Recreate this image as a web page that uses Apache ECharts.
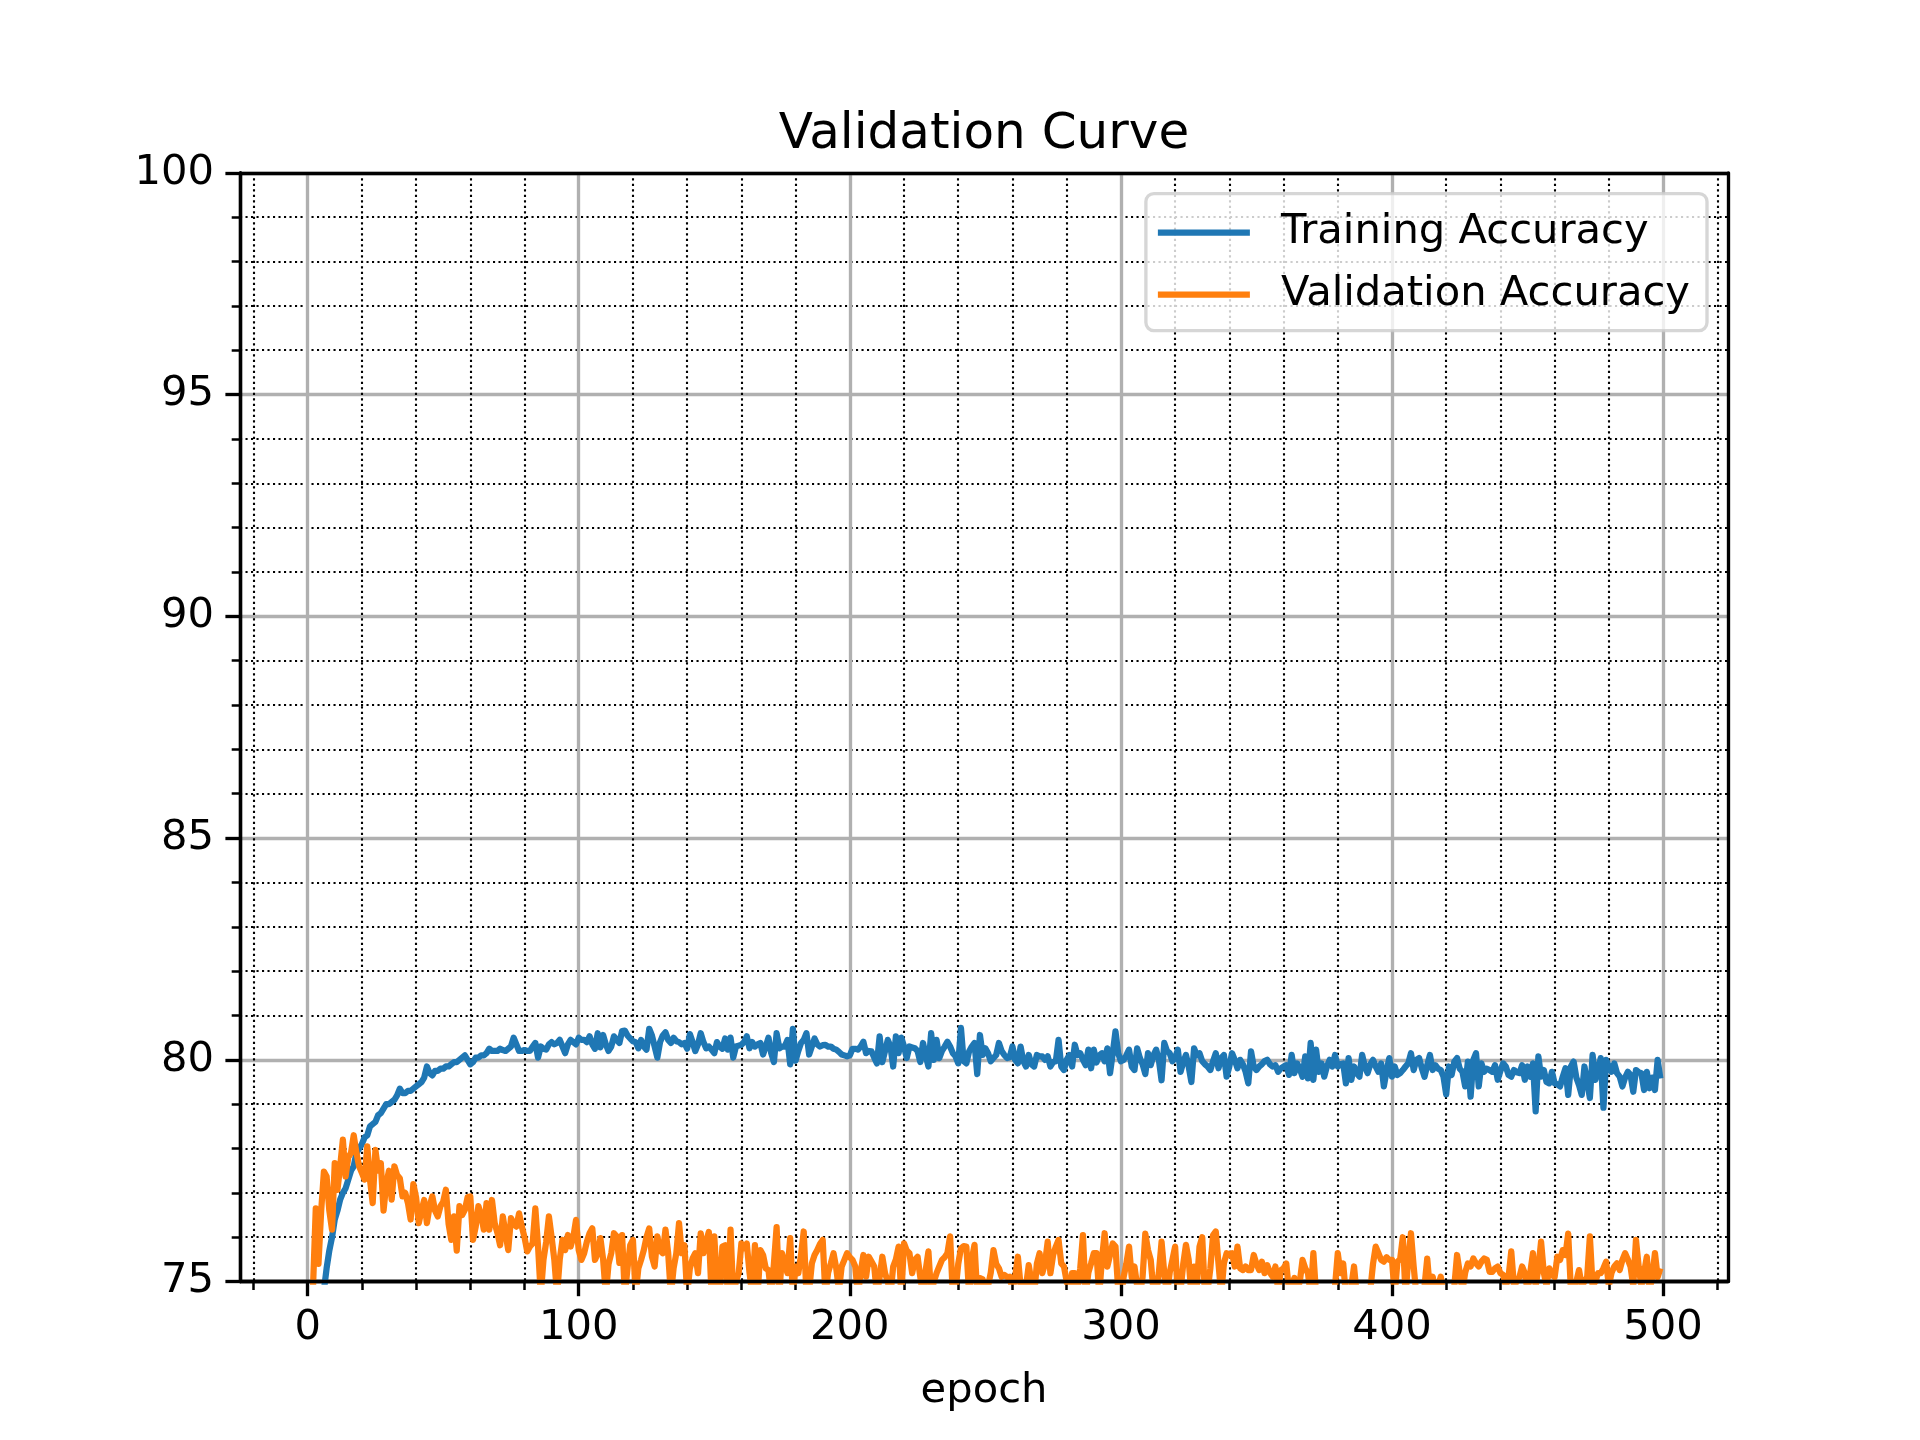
<!DOCTYPE html>
<html>
<head>
    <meta charset="utf-8">
    <title>Validation Curve</title>
    <script src="https://cdn.jsdelivr.net/npm/echarts@6.0.0/dist/echarts.min.js"></script>
    <style>
        html, body { margin: 0; padding: 0; background: #fff; }
    </style>
</head>
<body>
    <div id="main" style="width:1920px;height:1440px;"></div>
    <script type="text/javascript">
    // values, one per epoch (0..499)
    var trainAcc = [
        72.0, 72.6, 73.1, 73.6, 74.0, 74.4, 74.8, 75.3, 75.7, 76.0,
        76.4, 76.6, 76.85, 77.0, 77.1, 77.3, 77.5, 77.6, 77.9, 78.0,
        78.1, 78.25, 78.3, 78.5, 78.55, 78.6, 78.75, 78.8, 78.9, 79.0,
        79.0, 79.05, 79.1, 79.2, 79.35, 79.25, 79.25, 79.3, 79.3, 79.35,
        79.4, 79.45, 79.5, 79.6, 79.85, 79.7, 79.65, 79.75, 79.75, 79.8,
        79.8, 79.85, 79.85, 79.9, 79.95, 79.95, 80.0, 80.05, 80.1, 80.0,
        79.9, 79.95, 80.05, 80.05, 80.1, 80.1, 80.15, 80.25, 80.2, 80.2,
        80.2, 80.25, 80.22, 80.2, 80.25, 80.3, 80.5, 80.35, 80.2, 80.2,
        80.22, 80.2, 80.2, 80.3, 80.38, 80.05, 80.3, 80.25, 80.23, 80.35,
        80.4, 80.35, 80.38, 80.45, 80.3, 80.15, 80.35, 80.45, 80.4, 80.35,
        80.5, 80.45, 80.45, 80.4, 80.53, 80.35, 80.25, 80.6, 80.28, 80.56,
        80.35, 80.2, 80.3, 80.53, 80.45, 80.38, 80.65, 80.66, 80.55, 80.48,
        80.42, 80.4, 80.26, 80.45, 80.3, 80.23, 80.7, 80.55, 80.3, 80.05,
        80.4, 80.55, 80.62, 80.45, 80.38, 80.5, 80.42, 80.4, 80.35, 80.38,
        80.25, 80.58, 80.4, 80.2, 80.35, 80.6, 80.4, 80.26, 80.3, 80.23,
        80.15, 80.4, 80.3, 80.25, 80.48, 80.23, 80.5, 80.05, 80.3, 80.32,
        80.34, 80.4, 80.53, 80.26, 80.4, 80.3, 80.35, 80.38, 80.12, 80.3,
        80.5, 80.15, 79.95, 80.6, 80.26, 80.3, 80.3, 80.45, 79.9, 80.7,
        79.98, 80.2, 80.38, 80.45, 80.6, 80.12, 80.3, 80.48, 80.35, 80.3,
        80.33, 80.34, 80.3, 80.3, 80.25, 80.23, 80.18, 80.12, 80.1, 80.08,
        80.1, 80.25, 80.25, 80.23, 80.3, 80.41, 80.15, 80.2, 80.19, 80.05,
        79.92, 80.53, 79.95, 80.2, 80.45, 80.3, 79.85, 80.53, 80.15, 80.5,
        80.3, 80.04, 80.3, 80.28, 80.26, 80.2, 79.95, 80.38, 80.1, 79.85,
        80.6, 80.0, 80.45, 80.04, 80.2, 80.3, 80.41, 80.3, 80.15, 80.08,
        79.92, 80.72, 79.97, 79.92, 80.19, 80.3, 80.38, 79.68, 80.56, 80.11,
        80.26, 80.15, 79.97, 80.04, 80.11, 80.38, 80.2, 80.11, 80.04, 80.06,
        80.3, 80.0, 79.92, 80.3, 79.97, 79.85, 80.11, 79.9, 79.85, 80.11,
        80.08, 80.08, 80.0, 80.08, 79.85, 79.95, 79.97, 80.45, 79.85, 79.77,
        80.0, 80.11, 79.85, 80.34, 80.11, 80.15, 80.0, 79.88, 80.23, 79.81,
        80.23, 79.94, 80.1, 80.15, 79.97, 80.26, 79.7, 80.15, 80.64, 80.15,
        79.97, 80.0, 80.1, 80.23, 79.85, 79.77, 80.26, 80.04, 79.9, 79.68,
        80.15, 79.88, 80.1, 80.23, 80.0, 79.54, 80.38, 80.2, 80.15, 79.97,
        80.04, 80.23, 79.73, 79.95, 80.11, 79.85, 79.5, 80.26, 80.1, 80.15,
        79.97, 79.9, 79.85, 79.77, 79.97, 80.15, 79.81, 80.04, 80.11, 79.62,
        79.85, 80.15, 80.0, 79.81, 80.0, 79.9, 79.73, 79.47, 80.19, 79.85,
        79.77, 79.85, 79.9, 79.97, 80.0, 79.9, 79.85, 79.88, 79.73, 79.81,
        79.85, 79.88, 79.66, 80.11, 79.7, 79.92, 79.8, 79.62, 80.08, 79.58,
        80.38, 79.55, 80.23, 79.73, 79.92, 79.62, 79.85, 80.0, 79.85, 80.11,
        79.85, 79.9, 79.92, 79.47, 80.04, 79.55, 79.85, 79.7, 79.62, 80.11,
        79.85, 79.7, 79.9, 80.0, 79.85, 79.73, 79.92, 79.4, 79.75, 80.04,
        79.62, 79.85, 79.66, 79.7, 79.77, 79.85, 79.92, 80.15, 79.77, 80.0,
        80.04, 79.81, 79.62, 79.88, 80.11, 79.77, 79.88, 79.8, 79.77, 79.62,
        79.22, 79.85, 79.66, 79.96, 80.04, 79.8, 79.73, 79.4, 79.96, 79.17,
        80.0, 80.15, 79.4, 79.92, 79.73, 79.8, 79.77, 79.73, 79.88, 79.55,
        79.75, 79.92, 79.85, 79.66, 79.62, 79.77, 79.72, 79.7, 79.88, 79.55,
        79.85, 79.62, 79.92, 78.84, 80.08, 79.62, 79.77, 79.5, 79.47, 79.73,
        79.47, 79.45, 79.4, 79.62, 79.81, 79.21, 79.85, 79.96, 79.6, 79.43,
        79.21, 79.85, 79.5, 79.14, 80.11, 79.55, 79.77, 80.04, 78.92, 80.0,
        79.85, 79.73, 79.92, 79.7, 79.62, 79.4, 79.6, 79.73, 79.66, 79.28,
        79.77, 79.72, 79.7, 79.32, 79.73, 79.36, 79.6, 79.32, 80.0, 79.58
    ];
    var valAcc = [
        73.6, 74.4, 74.9, 76.65, 75.4, 76.6, 77.48, 77.37, 76.6, 76.17,
        77.67, 77.07, 77.6, 78.2, 77.37, 77.8, 77.9, 78.3, 77.9, 77.6,
        77.45, 77.3, 78.05, 77.3, 76.77, 77.97, 77.5, 77.67, 76.6, 77.2,
        77.5, 76.85, 77.6, 77.4, 77.33, 76.92, 77.0, 76.77, 76.4, 77.2,
        76.9, 76.32, 76.6, 76.84, 76.32, 76.7, 76.92, 76.6, 76.47, 76.7,
        76.8, 77.07, 76.3, 75.94, 76.47, 75.7, 76.7, 76.5, 76.62, 76.9,
        76.92, 75.94, 76.24, 76.7, 76.5, 76.17, 76.77, 76.17, 76.84, 76.32,
        76.1, 75.82, 76.47, 76.09, 75.71, 76.43, 76.3, 76.24, 76.54, 76.24,
        76.0, 75.68, 75.79, 75.86, 76.65, 75.79, 74.7, 75.49, 75.9, 76.47,
        76.0, 75.49, 74.7, 75.5, 75.94, 75.71, 76.05, 75.79, 76.0, 76.39,
        75.71, 75.49, 75.64, 75.9, 76.09, 76.2, 75.49, 75.64, 75.98, 75.5,
        74.7, 75.4, 75.64, 76.09, 76.02, 75.42, 76.05, 74.7, 75.3, 75.82,
        75.94, 74.7, 75.3, 75.49, 75.71, 76.0, 76.2, 75.56, 75.34, 76.02,
        75.7, 75.64, 76.17, 75.64, 74.7, 75.3, 75.64, 76.32, 75.64, 75.82,
        74.7, 75.3, 75.52, 75.64, 75.19, 76.09, 75.64, 75.9, 76.12, 74.7,
        76.02, 75.0, 74.7, 75.79, 75.82, 74.7, 76.17, 74.7, 75.0, 75.19,
        75.86, 75.75, 75.86, 75.2, 74.7, 75.82, 74.7, 75.71, 75.6, 75.3,
        75.26, 74.7, 75.4, 76.23, 74.7, 75.64, 75.4, 75.19, 75.98, 74.7,
        75.34, 75.19, 75.6, 76.13, 74.7, 74.8, 75.41, 75.6, 75.71, 75.85,
        75.94, 74.7, 75.2, 75.41, 75.64, 75.3, 74.8, 75.34, 75.49, 75.64,
        75.55, 75.49, 75.34, 74.7, 75.2, 75.6, 75.11, 75.56, 75.45, 75.34,
        74.7, 75.1, 75.56, 75.19, 75.0, 74.7, 75.34, 75.5, 75.79, 74.7,
        75.86, 75.7, 75.64, 75.19, 75.49, 75.56, 75.1, 74.7, 75.26, 75.68,
        74.7, 75.0, 75.19, 75.34, 75.49, 75.55, 75.64, 76.02, 74.7, 74.8,
        75.4, 75.75, 75.8, 75.79, 74.7, 75.5, 75.83, 74.7, 75.08, 75.05,
        74.8, 74.9, 75.2, 75.71, 75.4, 75.3, 75.11, 75.15, 75.1, 75.11,
        74.8, 75.1, 75.56, 74.9, 74.7, 74.9, 75.37, 75.0, 74.7, 75.4,
        75.64, 75.19, 75.41, 75.9, 75.19, 75.6, 75.79, 75.94, 75.41, 75.34,
        75.0, 74.7, 75.19, 75.19, 74.8, 75.3, 76.05, 74.7, 75.2, 75.41,
        75.64, 75.64, 74.7, 75.5, 76.09, 75.34, 75.6, 75.86, 75.79, 74.8,
        74.6, 75.1, 75.4, 75.79, 75.1, 75.34, 74.9, 74.7, 75.1, 76.08,
        75.71, 75.49, 74.8, 74.7, 75.2, 75.9, 75.19, 74.7, 75.2, 75.49,
        75.79, 74.7, 74.8, 75.4, 75.83, 75.49, 74.7, 75.34, 74.9, 75.79,
        76.0, 74.7, 74.8, 75.3, 76.05, 76.13, 75.41, 74.7, 75.41, 75.64,
        75.6, 75.64, 75.34, 75.79, 75.3, 75.26, 75.34, 75.26, 75.26, 75.6,
        75.4, 75.26, 75.45, 75.19, 75.37, 75.2, 75.11, 75.34, 74.8, 75.26,
        75.3, 75.41, 74.8, 74.9, 75.08, 74.8, 75.0, 75.49, 75.3, 75.19,
        74.7, 75.64, 74.7, 74.5, 74.6, 74.4, 74.6, 74.5, 74.8, 74.9,
        75.64, 75.19, 75.41, 74.7, 74.8, 74.9, 75.34, 74.7, 74.6, 74.5,
        74.6, 74.4, 74.8, 75.4, 75.79, 75.64, 75.49, 75.45, 75.55, 75.49,
        75.49, 74.7, 75.45, 75.5, 76.0, 74.7, 75.5, 76.09, 75.34, 74.7,
        74.6, 74.7, 74.9, 75.52, 74.8, 75.11, 74.8, 74.9, 75.11, 74.7,
        74.5, 74.4, 74.6, 74.9, 75.6, 75.2, 74.8, 75.2, 75.41, 75.34,
        75.52, 75.41, 75.34, 75.45, 75.52, 75.49, 75.22, 75.22, 75.3, 75.34,
        75.19, 75.15, 74.9, 75.1, 75.68, 74.9, 75.0, 75.1, 75.34, 75.19,
        74.8, 75.2, 75.64, 74.9, 75.3, 75.9, 75.2, 74.9, 75.3, 75.15,
        75.1, 75.56, 75.49, 75.71, 75.6, 76.08, 74.8, 74.9, 75.0, 75.26,
        74.9, 75.0, 75.1, 76.02, 74.9, 75.0, 75.19, 75.19, 75.3, 75.45,
        74.9, 75.2, 75.34, 75.41, 75.26, 75.49, 75.64, 75.5, 75.34, 74.9,
        75.94, 75.34, 74.9, 75.2, 75.56, 74.8, 75.1, 75.64, 75.1, 75.3
    ];
    var seriesNames = ['Training Accuracy', 'Validation Accuracy'];
    var xMajorTicks = [0, 100, 200, 300, 400, 500];
    var xMinorTicks = [-20, 20, 40, 60, 80, 120, 140, 160, 180, 220, 240, 260, 280,
                       320, 340, 360, 380, 420, 440, 460, 480, 520];
    var xRange = [-24.95, 523.95];
    var yRange = [75, 100];

    var myChart = echarts.init(document.getElementById('main'));

    function pairs(arr) {
        var out = [];
        for (var i = 0; i < arr.length; i++) {
            out.push([i, arr[i]]);
        }
        return out;
    }

    var font = 'DejaVu Sans';
    var lw = 3.33;   // 0.8pt at 300 dpi

    // frame axis: only a black line, drawn above grid lines and data
    function spineX(pos) {
        return {
            type: 'value', position: pos, min: xRange[0], max: xRange[1], z: 10,
            axisLine: { show: true, onZero: false, lineStyle: { color: '#000', width: lw } },
            axisTick: { show: false }, axisLabel: { show: false }, splitLine: { show: false }
        };
    }
    function spineY(pos) {
        return {
            type: 'value', position: pos, min: yRange[0], max: yRange[1], z: 10,
            axisLine: { show: true, onZero: false, lineStyle: { color: '#000', width: lw } },
            axisTick: { show: false }, axisLabel: { show: false }, splitLine: { show: false }
        };
    }

    var option = {
        animation: false,
        backgroundColor: '#fff',
        title: {
            text: 'Validation Curve',
            left: 984,
            top: 110,
            textAlign: 'center',
            padding: 0,
            textStyle: { fontFamily: font, fontSize: 50, fontWeight: 'normal', color: '#000' }
        },
        legend: {
            data: seriesNames,
            orient: 'vertical',
            right: 213,
            top: 193.6,
            z: 20,
            selectedMode: false,
            icon: 'rect',
            itemWidth: 92,
            itemHeight: 6.25,
            itemGap: 20,
            padding: [18, 17, 15, 12],
            backgroundColor: 'rgba(255,255,255,0.8)',
            borderColor: 'rgba(204,204,204,0.8)',
            borderWidth: lw,
            borderRadius: 8,
            textStyle: { fontFamily: font, fontSize: 41.67, color: '#000', padding: [0, 0, 0, 26] }
        },
        grid: {
            left: 240, top: 172.8, width: 1488, height: 1108.8,
            show: false
        },
        xAxis: [{
            type: 'value',
            position: 'bottom',
            min: xRange[0], max: xRange[1],
            name: 'epoch',
            nameLocation: 'middle',
            nameGap: 89,
            nameTextStyle: { fontFamily: font, fontSize: 41.67, color: '#000' },
            axisLine: { show: true, onZero: false, lineStyle: { color: '#000', width: lw } },
            axisTick: { show: true, customValues: xMajorTicks, length: 14.6, lineStyle: { color: '#000', width: lw } },
            axisLabel: { show: true, customValues: xMajorTicks, margin: 26, fontFamily: font, fontSize: 41.67, color: '#000' },
            splitLine: { show: true, lineStyle: { color: '#b0b0b0', width: lw } }
        }, {
            type: 'value',
            position: 'bottom',
            min: xRange[0], max: xRange[1],
            axisLine: { show: false, onZero: false },
            axisTick: { show: true, customValues: xMinorTicks, length: 8.3, lineStyle: { color: '#000', width: 2.5 } },
            axisLabel: { show: false },
            splitLine: { show: true, lineStyle: { color: '#000', width: 2.1, type: [2.1, 3.4] } }
        }, spineX('bottom'), spineX('top')],
        yAxis: [{
            type: 'value',
            position: 'left',
            min: yRange[0], max: yRange[1], interval: 5,
            axisLine: { show: true, onZero: false, lineStyle: { color: '#000', width: lw } },
            axisTick: { show: true, length: 14.6, lineStyle: { color: '#000', width: lw } },
            minorTick: { show: true, splitNumber: 5, length: 8.3, lineStyle: { color: '#000', width: 2.5 } },
            axisLabel: { margin: 26, fontFamily: font, fontSize: 41.67, color: '#000' },
            splitLine: { show: true, lineStyle: { color: '#b0b0b0', width: lw } },
            minorSplitLine: { show: true, lineStyle: { color: '#000', width: 2.1, type: [2.1, 3.4] } }
        }, spineY('left'), spineY('right')],
        series: [{
            name: seriesNames[0],
            type: 'line',
            data: pairs(trainAcc),
            showSymbol: false,
            clip: true,
            color: '#1f77b4',
            lineStyle: { color: '#1f77b4', width: 6.25, join: 'round' }
        }, {
            name: seriesNames[1],
            type: 'line',
            data: pairs(valAcc),
            showSymbol: false,
            clip: true,
            color: '#ff7f0e',
            lineStyle: { color: '#ff7f0e', width: 6.25, join: 'round' }
        }]
    };
    myChart.setOption(option);
    </script>
</body>
</html>
